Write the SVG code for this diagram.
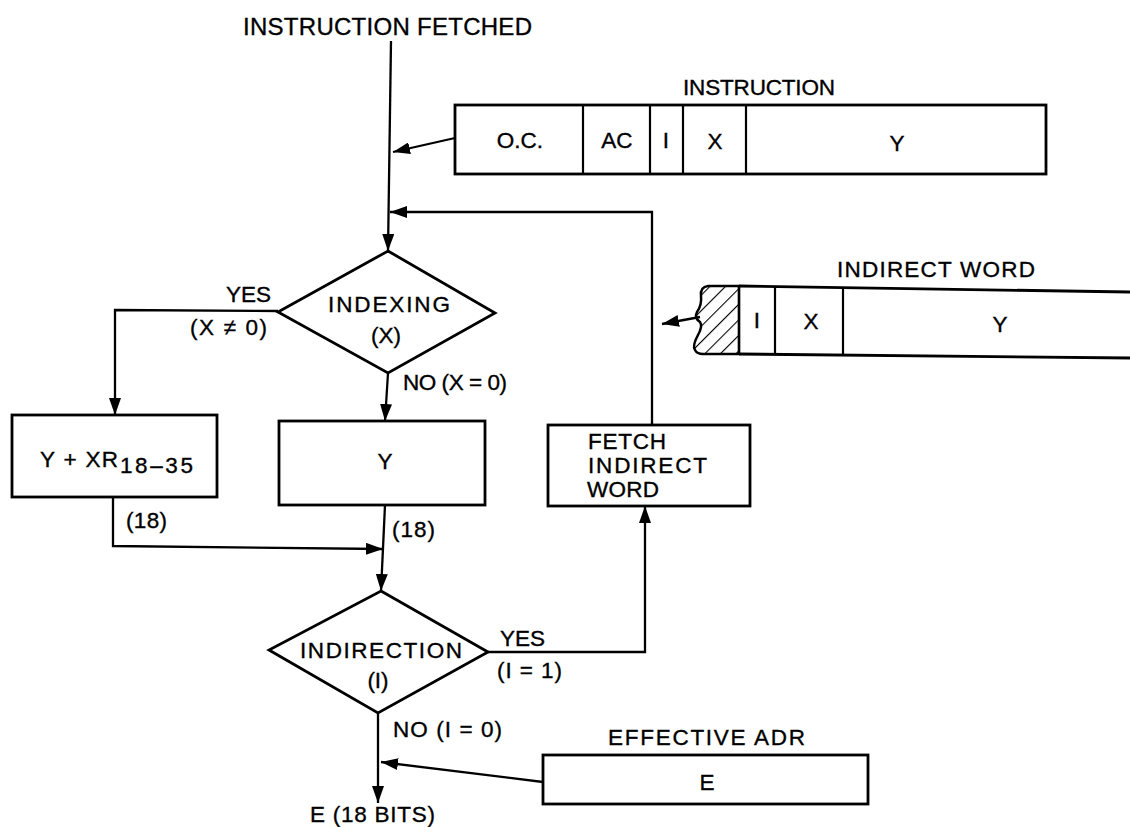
<svg xmlns="http://www.w3.org/2000/svg" width="1130" height="827" viewBox="0 0 1130 827">
<style>
text{font-family:"Liberation Sans",Arial,sans-serif;font-size:22.5px;fill:#000;stroke:#000;stroke-width:0.35}
.t23{font-size:24px}
.box{fill:#fff;stroke:#000;stroke-width:2.8}
.cell{fill:none;stroke:#000;stroke-width:2.2}
.ln{fill:none;stroke:#000;stroke-width:2.3}
.arr{fill:none;stroke:#000;stroke-width:2.3;marker-end:url(#ah)}
.mid{text-anchor:middle}
</style>
<defs>
<marker id="ah" markerUnits="userSpaceOnUse" markerWidth="18" markerHeight="12" refX="17" refY="6" orient="auto">
<path d="M0,0 L17,6 L0,12 Z" fill="#000"/>
</marker>
<pattern id="hatch" patternUnits="userSpaceOnUse" width="11" height="11" patternTransform="rotate(45)">
<line x1="0" y1="0" x2="0" y2="11" stroke="#000" stroke-width="2.2"/>
</pattern>
</defs>

<g id="connectors">
<path class="arr" d="M391,41 L388,251"/>
<path class="arr" d="M455,138 L393,152"/>
<path class="arr" d="M652,425 L652,212 L390,212"/>
<path class="arr" d="M278,311 L115,310 L115,415"/>
<path class="arr" d="M388,373 L385,421"/>
<path class="arr" d="M385,505 L381,591"/>
<path class="arr" d="M113,497 L113,546 L383,549"/>
<path class="arr" d="M488,652 L645,652 L645,506"/>
<path class="arr" d="M378,713 L378,803"/>
<path class="arr" d="M543,782 L381,762"/>
<path class="arr" d="M700,317 L662,324"/>
</g>

<g id="title">
<text class="t23" x="243" y="35" textLength="289" lengthAdjust="spacing">INSTRUCTION FETCHED</text>
</g>

<g id="instruction">
<text x="683" y="95" textLength="152" lengthAdjust="spacing">INSTRUCTION</text>
<rect class="box" x="455" y="105" width="591" height="69"/>
<line class="cell" x1="583" y1="105" x2="583" y2="174"/>
<line class="cell" x1="650" y1="105" x2="650" y2="174"/>
<line class="cell" x1="683" y1="105" x2="683" y2="174"/>
<line class="cell" x1="746" y1="105" x2="746" y2="174"/>
<text class="mid" x="520" y="148">O.C.</text>
<text class="mid" x="617" y="148">AC</text>
<text class="mid" x="666" y="148">I</text>
<text class="mid" x="715" y="149">X</text>
<text class="mid" x="897" y="151">Y</text>
</g>

<g id="indirect-word">
<text x="837" y="277" textLength="198" lengthAdjust="spacing">INDIRECT WORD</text>
<path d="M739,286 L708,286 Q700,287 701,296 Q702,305 697,312 Q694,318 700,322 Q703,326 698,335 Q692,346 695,350 Q697,354 703,354 L739,354 Z" fill="url(#hatch)" stroke="#000" stroke-width="2.5"/>
<path class="ln" d="M739,286 L1130,292 M739,354 L1130,358" style="stroke-width:2.8"/>
<line class="cell" x1="739" y1="286" x2="739" y2="354"/>
<line class="cell" x1="775" y1="287" x2="775" y2="355"/>
<line class="cell" x1="843" y1="287" x2="843" y2="355"/>
<text class="mid" x="757" y="328">I</text>
<text class="mid" x="811" y="329">X</text>
<text class="mid" x="1000" y="332">Y</text>
</g>

<g id="indexing">
<polygon class="box" points="388,251 495,313 388,373 278,312"/>
<text x="328" y="312" textLength="122" lengthAdjust="spacing">INDEXING</text>
<text class="mid" x="386" y="343">(X)</text>
<text x="226" y="302" textLength="45" lengthAdjust="spacing">YES</text>
<text x="190" y="335" textLength="77" lengthAdjust="spacing">(X ≠ 0)</text>
<text x="403" y="390" textLength="104" lengthAdjust="spacing">NO  (X = 0)</text>
</g>

<g id="y-plus-xr">
<rect class="box" x="12" y="415" width="205" height="82"/>
<text x="40" y="467"><tspan textLength="78" lengthAdjust="spacing">Y + XR</tspan><tspan x="120" y="473" textLength="73" lengthAdjust="spacing">18–35</tspan></text>
<text x="126" y="528" textLength="41" lengthAdjust="spacing">(18)</text>
</g>

<g id="y-box">
<rect class="box" x="279" y="421" width="206" height="84"/>
<text class="mid" x="385" y="469">Y</text>
<text x="392" y="537" textLength="43" lengthAdjust="spacing">(18)</text>
</g>

<g id="fetch-indirect">
<rect class="box" x="548" y="425" width="202" height="81"/>
<text x="588" y="449" textLength="78" lengthAdjust="spacing">FETCH</text>
<text x="588" y="473" textLength="119" lengthAdjust="spacing">INDIRECT</text>
<text x="587" y="497" textLength="72" lengthAdjust="spacing">WORD</text>
</g>

<g id="indirection">
<polygon class="box" points="381,591 488,652 378,713 269,650"/>
<text x="300" y="658" textLength="162" lengthAdjust="spacing">INDIRECTION</text>
<text class="mid" x="378" y="688">(I)</text>
<text x="500" y="646" textLength="45" lengthAdjust="spacing">YES</text>
<text x="497" y="678" textLength="65" lengthAdjust="spacing">(I = 1)</text>
<text x="393" y="737" textLength="109" lengthAdjust="spacing">NO  (I = 0)</text>
</g>

<g id="effective-adr">
<text x="608" y="745" textLength="197" lengthAdjust="spacing">EFFECTIVE ADR</text>
<rect class="box" x="543" y="755" width="325" height="49"/>
<text class="mid" x="707" y="790">E</text>
</g>

<g id="result">
<text x="310" y="822" textLength="125" lengthAdjust="spacing">E (18 BITS)</text>
</g>
</svg>
